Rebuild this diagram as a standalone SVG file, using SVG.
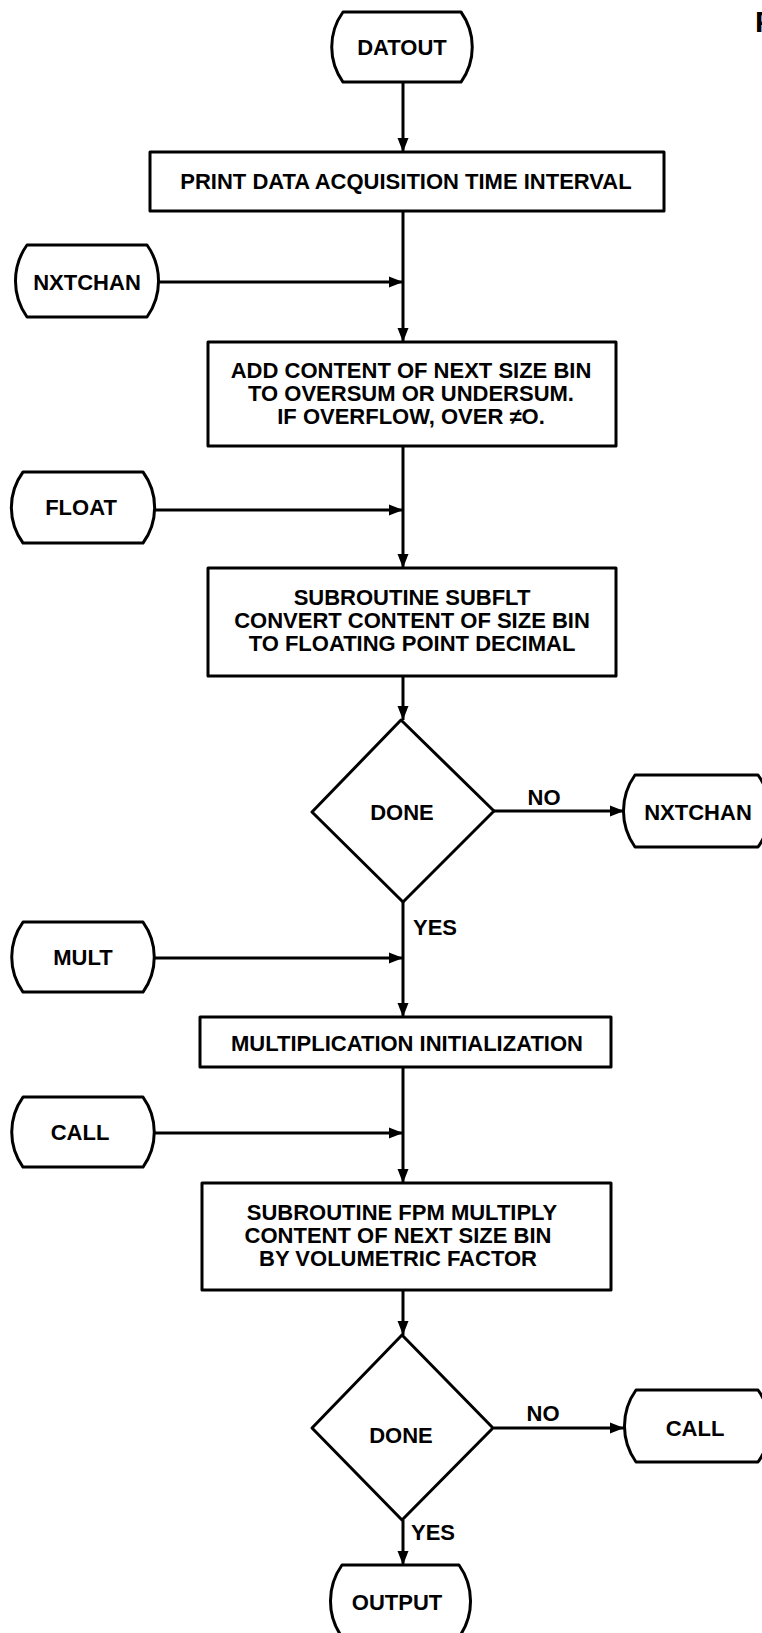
<svg xmlns="http://www.w3.org/2000/svg" width="762" height="1633" viewBox="0 0 762 1633">
<style>
  .shape { fill: #fff; stroke: #000; stroke-width: 3; stroke-linejoin: round; }
  .line { fill: none; stroke: #000; stroke-width: 3; }
  text { font-family: "Liberation Sans", Arial, sans-serif; font-weight: bold; font-size: 22px; fill: #000; }
  .c { text-anchor: middle; }
</style>
<defs>
  <marker id="arr" markerUnits="userSpaceOnUse" markerWidth="15" markerHeight="12" refX="14" refY="6" orient="auto">
    <path d="M0,0.5 L14,6 L0,11.5 Z" fill="#000"/>
  </marker>
</defs>
<rect width="762" height="1633" fill="#fff"/>

<g id="connectors">
  <line class="line" x1="403" y1="82" x2="403" y2="152" marker-end="url(#arr)"/>
  <line class="line" x1="403" y1="211" x2="403" y2="342" marker-end="url(#arr)"/>
  <line class="line" x1="159" y1="282" x2="403" y2="282" marker-end="url(#arr)"/>
  <line class="line" x1="403" y1="446" x2="403" y2="568" marker-end="url(#arr)"/>
  <line class="line" x1="155" y1="510" x2="403" y2="510" marker-end="url(#arr)"/>
  <line class="line" x1="403" y1="676" x2="403" y2="720" marker-end="url(#arr)"/>
  <line class="line" x1="494" y1="811" x2="624" y2="811" marker-end="url(#arr)"/>
  <line class="line" x1="403" y1="902" x2="403" y2="1017" marker-end="url(#arr)"/>
  <line class="line" x1="155" y1="958" x2="403" y2="958" marker-end="url(#arr)"/>
  <line class="line" x1="403" y1="1067" x2="403" y2="1183" marker-end="url(#arr)"/>
  <line class="line" x1="155" y1="1133" x2="403" y2="1133" marker-end="url(#arr)"/>
  <line class="line" x1="403" y1="1290" x2="403" y2="1335" marker-end="url(#arr)"/>
  <line class="line" x1="494" y1="1428" x2="624" y2="1428" marker-end="url(#arr)"/>
  <line class="line" x1="403" y1="1520" x2="403" y2="1565" marker-end="url(#arr)"/>
  <text x="544" y="805" class="c">NO</text>
  <text x="413" y="935">YES</text>
  <text x="543" y="1421" class="c">NO</text>
  <text x="411" y="1540">YES</text>
</g>

<g id="datout">
  <path class="shape" d="M343,12 L461,12 A60,60 0 0 1 461,82 L343,82 A60,60 0 0 1 343,12 Z"/>
  <text x="402" y="55" class="c">DATOUT</text>
</g>

<g id="print-interval">
  <rect class="shape" x="150" y="152" width="514" height="59"/>
  <text x="406" y="189" class="c">PRINT DATA ACQUISITION TIME INTERVAL</text>
</g>

<g id="nxtchan-in">
  <path class="shape" d="M27,245 L147,245 A62,62 0 0 1 147,317 L27,317 A62,62 0 0 1 27,245 Z"/>
  <text x="87" y="290" class="c">NXTCHAN</text>
</g>

<g id="add-content">
  <rect class="shape" x="208" y="342" width="408" height="104"/>
  <text x="411" y="378" class="c">ADD CONTENT OF NEXT SIZE BIN</text>
  <text x="411" y="401" class="c">TO OVERSUM OR UNDERSUM.</text>
  <text x="411" y="424" class="c">IF OVERFLOW, OVER ≠O.</text>
</g>

<g id="float">
  <path class="shape" d="M23,472 L143,472 A60,60 0 0 1 143,543 L23,543 A60,60 0 0 1 23,472 Z"/>
  <text x="81" y="515" class="c">FLOAT</text>
</g>

<g id="subflt">
  <rect class="shape" x="208" y="568" width="408" height="108"/>
  <text x="412" y="605" class="c">SUBROUTINE SUBFLT</text>
  <text x="412" y="628" class="c">CONVERT CONTENT OF SIZE BIN</text>
  <text x="412" y="651" class="c">TO FLOATING POINT DECIMAL</text>
</g>

<g id="done1">
  <path class="shape" d="M401,720 L494,811 L403,902 L312,812 Z"/>
  <text x="402" y="820" class="c">DONE</text>
</g>

<g id="nxtchan-out">
  <path class="shape" d="M635,775 L758,775 A62,62 0 0 1 758,847 L635,847 A62,62 0 0 1 635,775 Z"/>
  <text x="698" y="820" class="c">NXTCHAN</text>
</g>

<g id="mult">
  <path class="shape" d="M23,922 L143,922 A60,60 0 0 1 143,992 L23,992 A60,60 0 0 1 23,922 Z"/>
  <text x="83" y="965" class="c">MULT</text>
</g>

<g id="mult-init">
  <rect class="shape" x="200" y="1017" width="411" height="50"/>
  <text x="407" y="1051" class="c">MULTIPLICATION INITIALIZATION</text>
</g>

<g id="call-in">
  <path class="shape" d="M23,1097 L143,1097 A60,60 0 0 1 143,1167 L23,1167 A60,60 0 0 1 23,1097 Z"/>
  <text x="80" y="1140" class="c">CALL</text>
</g>

<g id="fpm">
  <rect class="shape" x="202" y="1183" width="409" height="107"/>
  <text x="402" y="1220" class="c">SUBROUTINE FPM  MULTIPLY</text>
  <text x="398" y="1243" class="c">CONTENT OF NEXT SIZE BIN</text>
  <text x="398" y="1266" class="c">BY VOLUMETRIC FACTOR</text>
</g>

<g id="done2">
  <path class="shape" d="M402,1335 L493,1428 L402,1520 L312,1428 Z"/>
  <text x="401" y="1443" class="c">DONE</text>
</g>

<g id="call-out">
  <path class="shape" d="M636,1390 L758,1390 A62,62 0 0 1 758,1462 L636,1462 A62,62 0 0 1 636,1390 Z"/>
  <text x="695" y="1436" class="c">CALL</text>
</g>

<g id="output">
  <path class="shape" d="M342,1565 L459,1565 A62,62 0 0 1 459,1637 L342,1637 A62,62 0 0 1 342,1565 Z"/>
  <text x="397" y="1610" class="c">OUTPUT</text>
</g>

<text x="755" y="32" style="font-size:30px">P</text>
</svg>
